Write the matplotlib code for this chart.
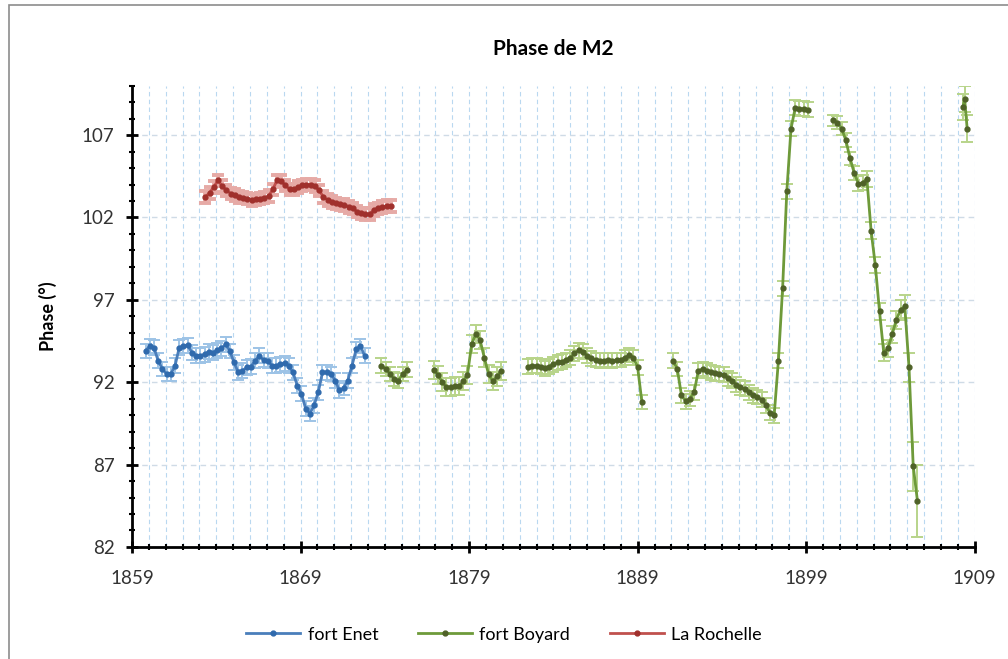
import matplotlib
matplotlib.use("Agg")
import matplotlib.pyplot as plt
from matplotlib.patches import Rectangle
import numpy as np

plt.rcParams["font.family"] = ["Lato", "DejaVu Sans"]

STEP = 0.25  # un point tous les trimestres

# fort Enet
enet_start = 1859.8
enet_phase = [93.9, 94.2, 94.1, 93.3, 92.8, 92.5, 92.5, 93.0, 94.1, 94.2,
              94.25, 93.8, 93.6, 93.6, 93.7, 93.85, 93.8, 93.95, 94.05, 94.3,
              93.9, 93.2, 92.6, 92.7, 92.9, 92.95, 93.3, 93.6, 93.35, 93.3,
              93.0, 93.0, 93.1, 93.15, 93.0, 92.6, 91.8, 91.3, 90.4, 90.1,
              90.6, 91.4, 92.6, 92.6, 92.5, 92.1, 91.5, 91.65, 92.1, 93.0,
              94.0, 94.2, 93.6]
enet_err = 0.45

# La Rochelle
rochelle_start = 1863.35
rochelle_phase = [103.25, 103.5, 103.85, 104.25, 103.9, 103.65, 103.45, 103.35, 103.25, 103.2,
                  103.15, 103.05, 103.1, 103.15, 103.2, 103.3, 103.7, 104.25, 104.2, 103.95,
                  103.7, 103.7, 103.85, 103.95, 104.0, 104.0, 103.9, 103.65, 103.25, 103.05,
                  102.95, 102.85, 102.8, 102.75, 102.65, 102.55, 102.35, 102.25, 102.2, 102.2,
                  102.45, 102.55, 102.65, 102.7, 102.7]
rochelle_err = 0.35

# fort Boyard, en plusieurs morceaux
boyard_starts = [1873.8, 1876.9, 1882.5, 1891.1, 1900.6]
boyard_phase = [
    [93.0, 92.8, 92.5, 92.2, 92.1, 92.5, 92.75],
    [92.75, 92.45, 92.0, 91.7, 91.7, 91.75, 91.75, 92.05, 92.45, 94.3,
     94.95, 94.55, 93.5, 92.5, 92.05, 92.35, 92.7],
    [92.95, 93.0, 93.0, 92.95, 92.85, 92.95, 93.1, 93.2, 93.25, 93.35,
     93.5, 93.75, 93.95, 93.85, 93.6, 93.45, 93.35, 93.3, 93.3, 93.35,
     93.3, 93.35, 93.35, 93.5, 93.65, 93.5, 92.9, 90.8],
    [93.3, 92.8, 91.2, 90.85, 91.0, 91.4, 92.7, 92.8, 92.7, 92.6,
     92.55, 92.5, 92.45, 92.25, 92.1, 91.85, 91.7, 91.6, 91.4, 91.2,
     91.1, 90.95, 90.6, 90.15, 90.0, 93.3, 97.7, 103.6, 107.4, 108.65,
     108.6, 108.6, 108.55],
    [107.9, 107.75, 107.4, 106.7, 105.6, 104.7, 104.05, 104.1, 104.35, 101.2,
     99.1, 96.3, 93.8, 94.05, 94.9, 95.8, 96.4, 96.6, 92.9, 86.9,
     84.8],
]
boyard_err = [
    0.45, 0.55, 0.45, 0.45,
    [0.35, 0.4, 0.4, 0.4, 0.4, 0.4, 0.45, 0.45, 0.5, 0.5,
     0.5, 0.5, 0.5, 0.5, 0.5, 0.55, 0.6, 0.7, 0.9, 1.5, 2.2],
]
boyard_last_years = [1908.3, 1908.4, 1908.55]
boyard_last_phase = [108.7, 109.2, 107.4]
boyard_last_err = 0.8


def years_from(start, values):
    return start + STEP * np.arange(len(values))


def draw_series(ax, x, y, err, line_col, mark_col, err_col, elw, label=None):
    ax.errorbar(x, y, yerr=err, fmt="none", ecolor=err_col, elinewidth=elw,
                capsize=4.5, capthick=elw, zorder=2)
    ax.plot(x, y, "-o", color=line_col, mfc=mark_col, mec=mark_col, ms=3.5,
            lw=2, zorder=3, label=label)


fig = plt.figure(figsize=(10.08, 6.59), dpi=100)
ax = fig.add_axes([0.131, 0.170, 0.836, 0.700])

# cadre gris autour du graphique
fig.patches.append(Rectangle((0.009, -0.02), 1.2, 1.012, transform=fig.transFigure,
                             fill=False, edgecolor="#8c8c8c", lw=1.2))

draw_series(ax, years_from(enet_start, enet_phase), enet_phase, enet_err,
            "#4a7ebb", "#2f6aad", "#9dc3e6", 1.4, label="fort Enet")

for i, (start, vals) in enumerate(zip(boyard_starts, boyard_phase)):
    draw_series(ax, years_from(start, vals), vals, boyard_err[i],
                "#6e9a3a", "#4f6228", "#b8d48a", 1.4,
                label="fort Boyard" if i == 0 else None)
draw_series(ax, boyard_last_years, boyard_last_phase, boyard_last_err,
            "#6e9a3a", "#4f6228", "#b8d48a", 1.4)

draw_series(ax, years_from(rochelle_start, rochelle_phase), rochelle_phase, rochelle_err,
            "#c0504d", "#a0302c", "#e6aaa6", 2.8, label="La Rochelle")

ax.set_xlim(1859, 1909)
ax.set_ylim(82, 110)
ax.set_xticks(range(1859, 1910, 10))
ax.set_xticks(range(1859, 1910), minor=True)
ax.set_yticks(range(82, 108, 5))
ax.set_yticks(range(82, 111), minor=True)

ax.grid(axis="x", which="both", ls=(0, (4, 3)), color="#b9d8f0", lw=0.8)
ax.grid(axis="y", which="major", ls=(0, (4, 3)), color="#cfdbe6", lw=1.0)
ax.set_axisbelow(True)

for side in ["top", "right"]:
    ax.spines[side].set_visible(False)
for side in ["left", "bottom"]:
    ax.spines[side].set_linewidth(2)

ax.tick_params(which="major", direction="inout", length=9, width=2, labelsize=13.5,
               labelcolor="#333333")
ax.tick_params(which="minor", direction="inout", length=5, width=1.5)
ax.tick_params(axis="x", which="major", pad=12)
ax.tick_params(axis="y", which="major", pad=8)

ax.set_title("Phase de M2", fontsize=15, fontweight="bold", pad=22)
ax.set_ylabel("Phase (°)", fontsize=13, fontweight="bold", labelpad=18)

fig.legend(loc="center", bbox_to_anchor=(0.5, 0.037), ncol=3, frameon=False,
           fontsize=13, handlelength=3, columnspacing=2.2, handletextpad=0.4)

fig.savefig("out.png", dpi=100)
